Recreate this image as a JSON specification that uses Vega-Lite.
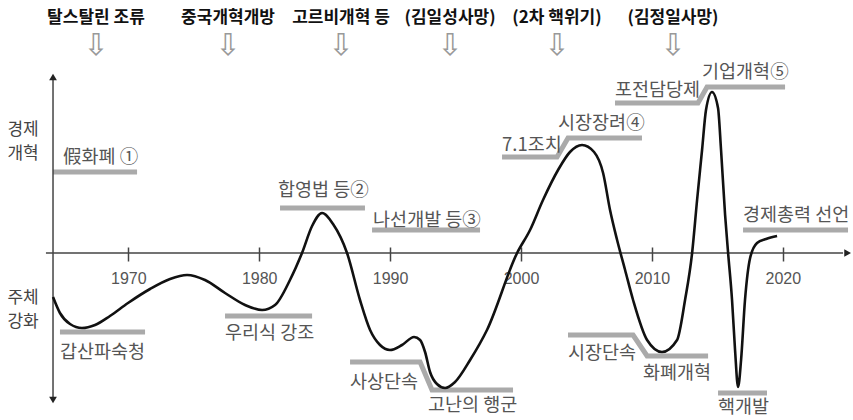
{
  "$schema": "https://vega.github.io/schema/vega-lite/v6.json",
  "width": 853,
  "height": 420,
  "autosize": {"type": "none"},
  "padding": 0,
  "background": "white",
  "config": {"view": {"stroke": null}},
  "datasets": {
    "curve": [
      {"year": 1964.25, "value": -4.4}, {"year": 1964.78, "value": -6.0}, {"year": 1965.55, "value": -7.1},
      {"year": 1966.46, "value": -7.5}, {"year": 1967.46, "value": -7.2}, {"year": 1968.60, "value": -6.3},
      {"year": 1969.98, "value": -5.0}, {"year": 1971.66, "value": -3.6}, {"year": 1973.19, "value": -2.6},
      {"year": 1974.49, "value": -2.2}, {"year": 1975.86, "value": -2.7}, {"year": 1977.39, "value": -4.0},
      {"year": 1978.92, "value": -5.2}, {"year": 1980.22, "value": -5.7}, {"year": 1981.21, "value": -5.2},
      {"year": 1982.35, "value": -2.7}, {"year": 1983.27, "value": 0.0}, {"year": 1984.04, "value": 2.7},
      {"year": 1984.80, "value": 4.0}, {"year": 1985.64, "value": 2.9}, {"year": 1986.71, "value": 0.0},
      {"year": 1987.70, "value": -4.7}, {"year": 1988.47, "value": -7.7}, {"year": 1989.23, "value": -9.2},
      {"year": 1989.99, "value": -9.7}, {"year": 1990.91, "value": -9.2}, {"year": 1991.83, "value": -8.4},
      {"year": 1992.29, "value": -8.7}, {"year": 1992.67, "value": -9.9}, {"year": 1993.05, "value": -11.9},
      {"year": 1993.58, "value": -13.1}, {"year": 1994.20, "value": -13.5}, {"year": 1994.96, "value": -12.9},
      {"year": 1996.11, "value": -10.7}, {"year": 1997.40, "value": -7.7}, {"year": 1999.70, "value": 0.0},
      {"year": 2000.69, "value": 2.3}, {"year": 2001.68, "value": 5.3}, {"year": 2002.83, "value": 8.3},
      {"year": 2003.74, "value": 10.1}, {"year": 2004.66, "value": 10.8}, {"year": 2005.58, "value": 10.1},
      {"year": 2006.27, "value": 8.0}, {"year": 2006.80, "value": 4.3}, {"year": 2007.34, "value": 1.3},
      {"year": 2007.95, "value": -1.7}, {"year": 2008.56, "value": -4.7}, {"year": 2009.63, "value": -8.7},
      {"year": 2010.77, "value": -9.9}, {"year": 2011.92, "value": -8.7}, {"year": 2012.53, "value": -4.7},
      {"year": 2013.07, "value": 0.0}, {"year": 2013.45, "value": 5.3}, {"year": 2013.83, "value": 10.3},
      {"year": 2014.13, "value": 14.3}, {"year": 2014.59, "value": 16.1}, {"year": 2015.05, "value": 14.5},
      {"year": 2015.28, "value": 10.3}, {"year": 2015.59, "value": 3.8}, {"year": 2015.82, "value": 0.0},
      {"year": 2016.12, "value": -4.7}, {"year": 2016.35, "value": -9.7}, {"year": 2016.58, "value": -13.4},
      {"year": 2016.81, "value": -10.7}, {"year": 2017.11, "value": -4.7}, {"year": 2017.50, "value": -0.5},
      {"year": 2018.03, "value": 1.0}, {"year": 2018.72, "value": 1.4}, {"year": 2019.56, "value": 1.7}
    ],
    "bars": [
      {"id": "A", "ord": 1, "year": 1964.25, "value": 8.1}, {"id": "A", "ord": 2, "year": 1970.67, "value": 8.1},
      {"id": "B", "ord": 1, "year": 1981.59, "value": 4.5}, {"id": "B", "ord": 2, "year": 1988.08, "value": 4.5},
      {"id": "C", "ord": 1, "year": 1988.62, "value": 2.3}, {"id": "C", "ord": 2, "year": 1996.87, "value": 2.3},
      {"id": "D", "ord": 1, "year": 1998.55, "value": 9.6}, {"id": "D", "ord": 2, "year": 2002.75, "value": 9.6},
      {"id": "D", "ord": 3, "year": 2003.59, "value": 11.5}, {"id": "D", "ord": 4, "year": 2009.24, "value": 11.5},
      {"id": "E", "ord": 1, "year": 2007.18, "value": 15.0}, {"id": "E", "ord": 2, "year": 2013.52, "value": 15.0},
      {"id": "E", "ord": 3, "year": 2014.21, "value": 16.6}, {"id": "E", "ord": 4, "year": 2020.17, "value": 16.6},
      {"id": "F", "ord": 1, "year": 2016.96, "value": 2.3}, {"id": "F", "ord": 2, "year": 2024.98, "value": 2.3},
      {"id": "G", "ord": 1, "year": 1964.78, "value": -7.9}, {"id": "G", "ord": 2, "year": 1971.28, "value": -7.9},
      {"id": "H", "ord": 1, "year": 1977.39, "value": -6.3}, {"id": "H", "ord": 2, "year": 1984.04, "value": -6.3},
      {"id": "I", "ord": 1, "year": 1986.94, "value": -10.9}, {"id": "I", "ord": 2, "year": 1992.29, "value": -10.9},
      {"id": "I", "ord": 3, "year": 1993.20, "value": -13.7}, {"id": "I", "ord": 4, "year": 1999.39, "value": -13.7},
      {"id": "J", "ord": 1, "year": 2003.59, "value": -8.2}, {"id": "J", "ord": 2, "year": 2008.56, "value": -8.2},
      {"id": "J", "ord": 3, "year": 2009.63, "value": -10.3}, {"id": "J", "ord": 4, "year": 2014.29, "value": -10.3},
      {"id": "K", "ord": 1, "year": 2015.05, "value": -14.0}, {"id": "K", "ord": 2, "year": 2018.79, "value": -14.0}
    ],
    "notes": [
      {"year": 1965.01, "value": 9.6, "text": "假화폐 ①"},
      {"year": 1981.44, "value": 6.3, "text": "합영법 등②"},
      {"year": 1988.70, "value": 3.3, "text": "나선개발 등③"},
      {"year": 1998.55, "value": 10.8, "text": "7.1조치"},
      {"year": 2002.83, "value": 13.0, "text": "시장장려④"},
      {"year": 2007.18, "value": 16.3, "text": "포전담당제"},
      {"year": 2013.83, "value": 18.1, "text": "기업개혁⑤"},
      {"year": 2016.96, "value": 3.8, "text": "경제총력 선언"},
      {"year": 1964.78, "value": -9.9, "text": "갑산파숙청"},
      {"year": 1977.39, "value": -8.0, "text": "우리식 강조"},
      {"year": 1986.94, "value": -12.9, "text": "사상단속"},
      {"year": 1992.90, "value": -15.2, "text": "고난의 행군"},
      {"year": 2003.59, "value": -10.0, "text": "시장단속"},
      {"year": 2009.32, "value": -12.0, "text": "화폐개혁"},
      {"year": 2015.05, "value": -15.4, "text": "핵개발"}
    ],
    "events": [
      {"year": 1967.53, "value": 23.5, "text": "탈스탈린 조류"},
      {"year": 1977.62, "value": 23.5, "text": "중국개혁개방"},
      {"year": 1986.25, "value": 23.5, "text": "고르비개혁 등"},
      {"year": 1994.58, "value": 23.5, "text": "(김일성사망)"},
      {"year": 2002.75, "value": 23.5, "text": "(2차 핵위기)"},
      {"year": 2011.61, "value": 23.5, "text": "(김정일사망)"}
    ],
    "side": [
      {"year": 1961.96, "value": 12.3, "text": "경제\n개혁"},
      {"year": 1961.96, "value": -4.5, "text": "주체\n강화"}
    ],
    "vaxis": [{"year": 1964.25, "value": -14.4, "value2": 17.3}],
    "haxis": [{"year": 1963.71, "year2": 2024.6, "value": 0}],
    "heads": [
      {"year": 1964.25, "value": 17.6, "dir": "up"},
      {"year": 1964.25, "value": -14.7, "dir": "down"},
      {"year": 2024.95, "value": 0, "dir": "right"}
    ]
  },
  "encoding": {
    "x": {
      "field": "year", "type": "quantitative",
      "scale": {"domain": [1960.2, 2025.36], "nice": false, "zero": false},
      "axis": {
        "orient": "bottom", "offset": -173, "domain": false, "grid": false,
        "values": [1970, 1980, 1990, 2000, 2010, 2020], "format": "d",
        "tickSize": 14, "tickColor": "#444", "tickWidth": 1.5,
        "labelFont": "Liberation Sans", "labelFontSize": 16, "labelColor": "#555",
        "labelPadding": 9, "title": null
      }
    },
    "y": {
      "field": "value", "type": "quantitative",
      "scale": {"domain": [-16.7, 25.3], "nice": false, "zero": false},
      "axis": null
    }
  },
  "layer": [
    {
      "data": {"name": "bars"},
      "mark": {"type": "line", "color": "#aaaaaa", "strokeWidth": 5, "strokeCap": "butt", "strokeJoin": "miter"},
      "encoding": {"detail": {"field": "id"}, "order": {"field": "ord", "type": "quantitative"}}
    },
    {
      "data": {"name": "vaxis"},
      "mark": {"type": "rule", "color": "#444", "strokeWidth": 1.5},
      "encoding": {"y2": {"field": "value2"}}
    },
    {
      "data": {"name": "haxis"},
      "mark": {"type": "rule", "color": "#444", "strokeWidth": 1.5},
      "encoding": {"x2": {"field": "year2"}}
    },
    {
      "data": {"name": "heads"},
      "mark": {"type": "point", "filled": true, "color": "#222", "size": 60, "opacity": 1},
      "encoding": {
        "shape": {"field": "dir", "type": "nominal", "scale": {"domain": ["up", "down", "right"], "range": ["triangle-up", "triangle-down", "triangle-right"]}, "legend": null}
      }
    },
    {
      "data": {"name": "curve"},
      "mark": {"type": "line", "interpolate": "monotone", "color": "#111", "strokeWidth": 2.6}
    },
    {
      "data": {"name": "notes"},
      "mark": {"type": "text", "align": "left", "baseline": "middle", "font": "Noto Sans CJK KR", "fontSize": 18.5, "color": "#555"},
      "encoding": {"text": {"field": "text"}}
    },
    {
      "data": {"name": "events"},
      "mark": {"type": "text", "align": "center", "baseline": "middle", "font": "Noto Sans CJK KR", "fontSize": 17, "fontWeight": "bold", "color": "#111"},
      "encoding": {"text": {"field": "text"}}
    },
    {
      "data": {"name": "events"},
      "mark": {"type": "text", "align": "center", "baseline": "middle", "font": "DejaVu Sans", "fontSize": 30, "color": "#999", "dy": 28, "text": "⇩"}
    },
    {
      "data": {"name": "side"},
      "mark": {"type": "text", "align": "center", "baseline": "middle", "font": "Noto Sans CJK KR", "fontSize": 17, "color": "#444", "lineBreak": "\n", "lineHeight": 24},
      "encoding": {"text": {"field": "text"}}
    }
  ]
}
